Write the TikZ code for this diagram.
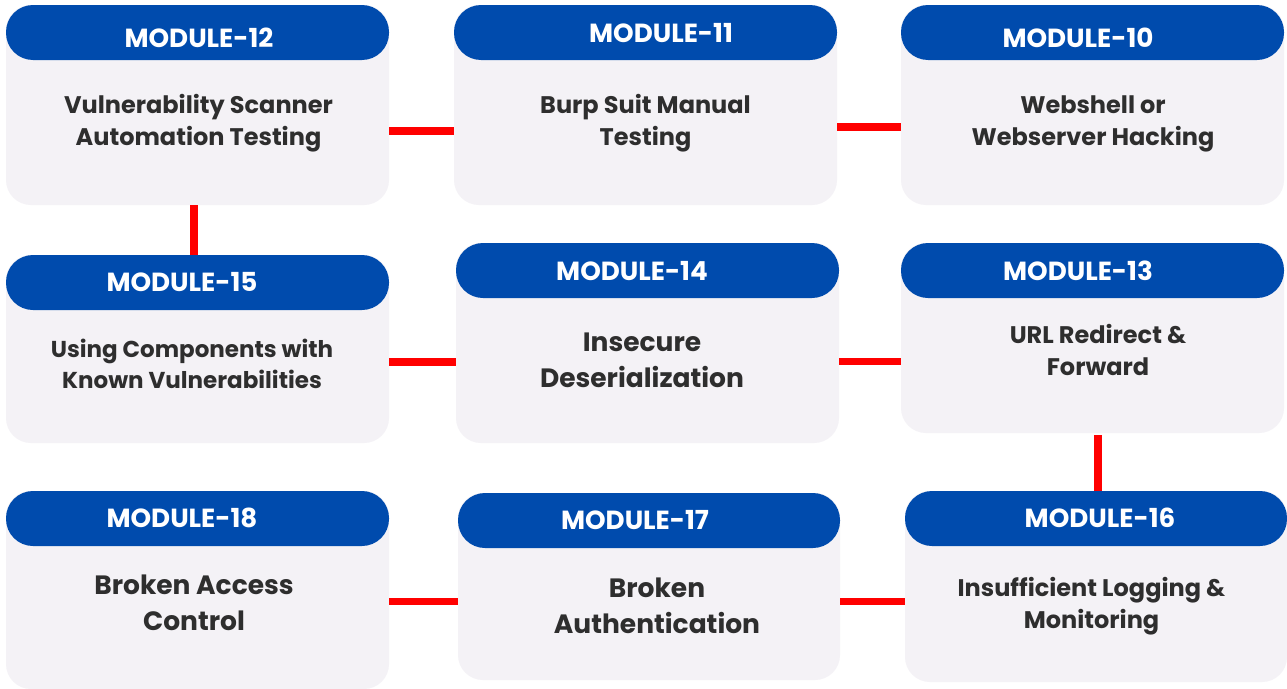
\documentclass[tikz,border=0pt]{standalone}
\usepackage{fontspec}
\setmainfont{Poppins}[UprightFont=* Bold, BoldFont=* Bold]
\definecolor{hdrblue}{RGB}{0,75,173}
\definecolor{boxbg}{RGB}{244,242,246}
\definecolor{bodytxt}{RGB}{46,46,46}
\definecolor{connred}{RGB}{255,0,0}
\tikzset{
  modbox/.style={rectangle, rounded corners=25pt, fill=boxbg, inner sep=0pt, outer sep=0pt, anchor=north west, minimum width=383pt},
  hdr/.style={rectangle, rounded corners=27pt, fill=hdrblue, inner sep=0pt, outer sep=0pt, anchor=north, minimum width=383pt, minimum height=55pt},
  htext/.style={text=white, inner sep=0pt, font=\fontsize{26.2}{28}\selectfont},
  btext/.style={text=bodytxt, inner sep=0pt, align=center, anchor=base},
  bmid/.style={btext, font=\fontsize{24}{32}\selectfont},
  bsmall/.style={btext, font=\fontsize{23}{31}\selectfont},
  bbig/.style={btext, font=\fontsize{26.5}{36}\selectfont},
  conn/.style={draw=connred, line width=7.5pt}
}
\begin{document}
\begin{tikzpicture}[x=1pt,y=-1pt]
\useasboundingbox[fill=white] (0,0) rectangle (1287,688);
% boxes
\node[modbox, minimum height=200pt] (m12) at (6,5) {};
\node[modbox, minimum height=200pt] (m11) at (454,5) {};
\node[modbox, minimum height=200pt] (m10) at (901,5) {};
\node[modbox, minimum height=188pt] (m15) at (6,255) {};
\node[modbox, minimum height=200pt] (m14) at (456,243) {};
\node[modbox, minimum height=190pt] (m13) at (901,243) {};
\node[modbox, minimum height=198pt] (m18) at (6,491) {};
\node[modbox, minimum height=187pt, minimum width=382pt] (m17) at (458,493) {};
\node[modbox, minimum height=191pt, minimum width=382pt] (m16) at (905,491) {};
% headers
\node[hdr] (h12) at (m12.north) {};
\node[hdr] (h11) at (m11.north) {};
\node[hdr] (h10) at (m10.north) {};
\node[hdr] (h15) at (m15.north) {};
\node[hdr] (h14) at (m14.north) {};
\node[hdr] (h13) at (m13.north) {};
\node[hdr] (h18) at (m18.north) {};
\node[hdr, minimum width=382pt] (h17) at (m17.north) {};
\node[hdr, minimum width=382pt] (h16) at (m16.north) {};
% header texts
\node[htext] (t12) at (199,38) {MODULE-12};
\node[htext] (t11) at (661,33) {MODULE-11};
\node[htext] (t10) at (1078,38) {MODULE-10};
\node[htext] (t15) at (182,282) {MODULE-15};
\node[htext] (t14) at (632,271) {MODULE-14};
\node[htext] (t13) at (1078,271) {MODULE-13};
\node[htext] (t18) at (182,518) {MODULE-18};
\node[htext] (t17) at (635,520) {MODULE-17};
\node[htext] (t16) at (1100,518) {MODULE-16};
% body texts (anchored at the baseline of the last line)
\node[bmid] (b12) at (198.5,145) {Vulnerability Scanner\\Automation Testing};
\node[bmid] (b11) at (645.5,145) {Burp Suit Manual\\Testing};
\node[bmid] (b10) at (1093,145) {Webshell or\\Webserver Hacking};
\node[bsmall] (b15) at (192,388) {Using Components with\\Known Vulnerabilities};
\node[bbig] (b14) at (642,387) {Insecure\\Deserialization};
\node[bmid] (b13) at (1098,375) {URL Redirect \&\\Forward};
\node[bbig] (b18) at (194,630) {Broken Access\\Control};
\node[bbig] (b17) at (657,633) {Broken\\Authentication};
\node[bmid] (b16) at (1091.5,628) {Insufficient Logging \&\\Monitoring};
% connectors
\draw[conn] ([yshift=-26pt]m12.east) -- ([yshift=-26pt]m12.east -| m11.west);
\draw[conn] ([yshift=-22pt]m11.east) -- ([yshift=-22pt]m11.east -| m10.west);
\draw[conn] ([xshift=-3.5pt]m12.south) -- ([xshift=-3.5pt]m12.south |- m15.north);
\draw[conn] ([yshift=-13pt]m15.east) -- ([yshift=-13pt]m15.east -| m14.west);
\draw[conn] ([yshift=-18.5pt]m14.east) -- ([yshift=-18.5pt]m14.east -| m13.west);
\draw[conn] ([xshift=5.5pt,yshift=-2pt]m13.south) -- ([xshift=5.5pt]m13.south |- m16.north);
\draw[conn] ([yshift=-11.5pt]m18.east) -- ([yshift=-11.5pt]m18.east -| m17.west);
\draw[conn] ([yshift=-15pt]m17.east) -- ([yshift=-15pt]m17.east -| m16.west);
\end{tikzpicture}
\end{document}
